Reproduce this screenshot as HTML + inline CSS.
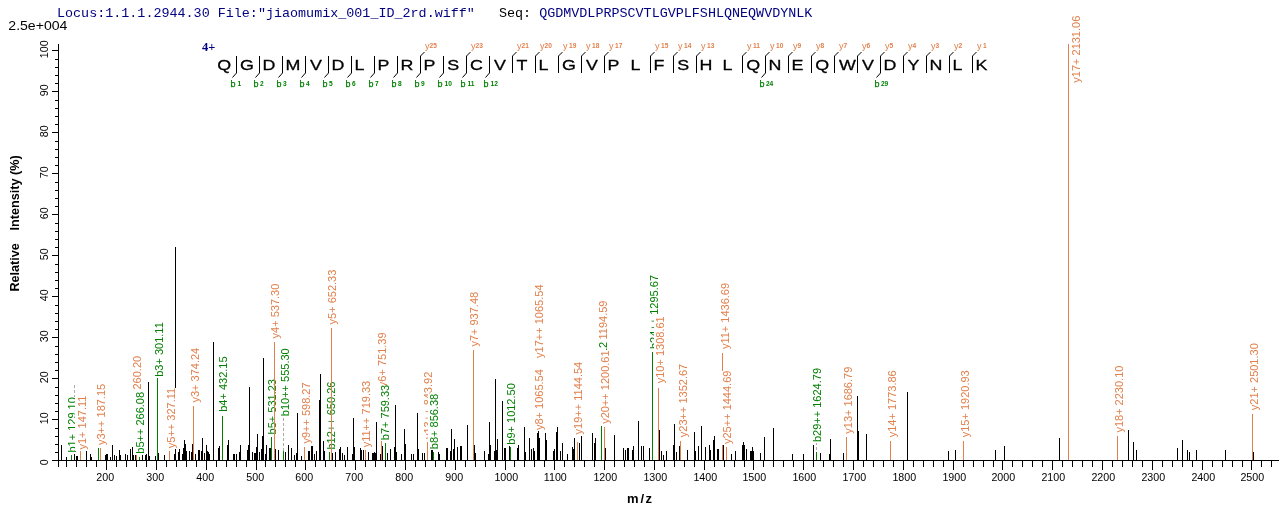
<!DOCTYPE html><html><head><meta charset="utf-8"><style>html,body{margin:0;padding:0;background:#fff;}svg{display:block;}text{font-family:"Liberation Sans",Arial,sans-serif;}</style></head><body>
<svg width="1279" height="512" viewBox="0 0 1279 512" shape-rendering="crispEdges">
<rect width="1279" height="512" fill="#fff"/>
<text x="57" y="16.5" style="font-family:'Liberation Mono',monospace;font-size:13.4px" fill="#000080" xml:space="preserve">Locus:1.1.1.2944.30 File:"jiaomumix_001_ID_2rd.wiff"   <tspan fill="#000">Seq:</tspan> QGDMVDLPRPSCVTLGVPLFSHLQNEQWVDYNLK</text>
<text transform="translate(8.3,30) scale(1.06,1)" font-size="13.3" fill="#000">2.5e+004</text>
<rect x="58" y="44" width="1" height="423" fill="#000"/>
<rect x="52" y="460" width="6" height="1" fill="#000"/>
<text transform="translate(47.9,462.4) rotate(-90)" font-size="10.67" text-anchor="middle">0</text>
<rect x="55" y="452" width="3" height="1" fill="#000"/>
<rect x="55" y="444" width="3" height="1" fill="#000"/>
<rect x="55" y="436" width="3" height="1" fill="#000"/>
<rect x="55" y="428" width="3" height="1" fill="#000"/>
<rect x="52" y="419" width="6" height="1" fill="#000"/>
<text transform="translate(47.9,418.3) rotate(-90)" font-size="10.67" text-anchor="middle">10</text>
<rect x="55" y="411" width="3" height="1" fill="#000"/>
<rect x="55" y="403" width="3" height="1" fill="#000"/>
<rect x="55" y="395" width="3" height="1" fill="#000"/>
<rect x="55" y="387" width="3" height="1" fill="#000"/>
<rect x="52" y="378" width="6" height="1" fill="#000"/>
<text transform="translate(47.9,377.3) rotate(-90)" font-size="10.67" text-anchor="middle">20</text>
<rect x="55" y="370" width="3" height="1" fill="#000"/>
<rect x="55" y="362" width="3" height="1" fill="#000"/>
<rect x="55" y="354" width="3" height="1" fill="#000"/>
<rect x="55" y="346" width="3" height="1" fill="#000"/>
<rect x="52" y="337" width="6" height="1" fill="#000"/>
<text transform="translate(47.9,336.3) rotate(-90)" font-size="10.67" text-anchor="middle">30</text>
<rect x="55" y="329" width="3" height="1" fill="#000"/>
<rect x="55" y="321" width="3" height="1" fill="#000"/>
<rect x="55" y="313" width="3" height="1" fill="#000"/>
<rect x="55" y="305" width="3" height="1" fill="#000"/>
<rect x="52" y="296" width="6" height="1" fill="#000"/>
<text transform="translate(47.9,295.3) rotate(-90)" font-size="10.67" text-anchor="middle">40</text>
<rect x="55" y="288" width="3" height="1" fill="#000"/>
<rect x="55" y="280" width="3" height="1" fill="#000"/>
<rect x="55" y="272" width="3" height="1" fill="#000"/>
<rect x="55" y="264" width="3" height="1" fill="#000"/>
<rect x="52" y="255" width="6" height="1" fill="#000"/>
<text transform="translate(47.9,254.3) rotate(-90)" font-size="10.67" text-anchor="middle">50</text>
<rect x="55" y="247" width="3" height="1" fill="#000"/>
<rect x="55" y="239" width="3" height="1" fill="#000"/>
<rect x="55" y="231" width="3" height="1" fill="#000"/>
<rect x="55" y="223" width="3" height="1" fill="#000"/>
<rect x="52" y="214" width="6" height="1" fill="#000"/>
<text transform="translate(47.9,213.3) rotate(-90)" font-size="10.67" text-anchor="middle">60</text>
<rect x="55" y="206" width="3" height="1" fill="#000"/>
<rect x="55" y="198" width="3" height="1" fill="#000"/>
<rect x="55" y="190" width="3" height="1" fill="#000"/>
<rect x="55" y="182" width="3" height="1" fill="#000"/>
<rect x="52" y="173" width="6" height="1" fill="#000"/>
<text transform="translate(47.9,172.3) rotate(-90)" font-size="10.67" text-anchor="middle">70</text>
<rect x="55" y="165" width="3" height="1" fill="#000"/>
<rect x="55" y="157" width="3" height="1" fill="#000"/>
<rect x="55" y="149" width="3" height="1" fill="#000"/>
<rect x="55" y="141" width="3" height="1" fill="#000"/>
<rect x="52" y="132" width="6" height="1" fill="#000"/>
<text transform="translate(47.9,131.3) rotate(-90)" font-size="10.67" text-anchor="middle">80</text>
<rect x="55" y="124" width="3" height="1" fill="#000"/>
<rect x="55" y="116" width="3" height="1" fill="#000"/>
<rect x="55" y="108" width="3" height="1" fill="#000"/>
<rect x="55" y="100" width="3" height="1" fill="#000"/>
<rect x="52" y="91" width="6" height="1" fill="#000"/>
<text transform="translate(47.9,90.3) rotate(-90)" font-size="10.67" text-anchor="middle">90</text>
<rect x="55" y="83" width="3" height="1" fill="#000"/>
<rect x="55" y="75" width="3" height="1" fill="#000"/>
<rect x="55" y="67" width="3" height="1" fill="#000"/>
<rect x="55" y="59" width="3" height="1" fill="#000"/>
<rect x="52" y="50" width="6" height="1" fill="#000"/>
<text transform="translate(47.9,49.3) rotate(-90)" font-size="10.67" text-anchor="middle">100</text>
<text transform="translate(19.2,291.6) rotate(-90) scale(0.93,1)" font-size="13.6" font-weight="bold">Relative</text>
<text transform="translate(19.2,230.4) rotate(-90) scale(0.93,1)" font-size="13.6" font-weight="bold">Intensity (%)</text>
<rect x="52" y="460" width="1227" height="1" fill="#000"/>
<rect x="66" y="461" width="1" height="6" fill="#000"/>
<rect x="76" y="461" width="1" height="6" fill="#000"/>
<rect x="86" y="461" width="1" height="6" fill="#000"/>
<rect x="96" y="461" width="1" height="6" fill="#000"/>
<rect x="106" y="461" width="1" height="9" fill="#000"/>
<text x="105.2" y="480.6" font-size="10.67" text-anchor="middle">200</text>
<rect x="116" y="461" width="1" height="6" fill="#000"/>
<rect x="126" y="461" width="1" height="6" fill="#000"/>
<rect x="136" y="461" width="1" height="6" fill="#000"/>
<rect x="146" y="461" width="1" height="6" fill="#000"/>
<rect x="156" y="461" width="1" height="9" fill="#000"/>
<text x="155.2" y="480.6" font-size="10.67" text-anchor="middle">300</text>
<rect x="166" y="461" width="1" height="6" fill="#000"/>
<rect x="176" y="461" width="1" height="6" fill="#000"/>
<rect x="186" y="461" width="1" height="6" fill="#000"/>
<rect x="196" y="461" width="1" height="6" fill="#000"/>
<rect x="206" y="461" width="1" height="9" fill="#000"/>
<text x="205.2" y="480.6" font-size="10.67" text-anchor="middle">400</text>
<rect x="216" y="461" width="1" height="6" fill="#000"/>
<rect x="226" y="461" width="1" height="6" fill="#000"/>
<rect x="236" y="461" width="1" height="6" fill="#000"/>
<rect x="246" y="461" width="1" height="6" fill="#000"/>
<rect x="256" y="461" width="1" height="9" fill="#000"/>
<text x="255.2" y="480.6" font-size="10.67" text-anchor="middle">500</text>
<rect x="265" y="461" width="1" height="6" fill="#000"/>
<rect x="275" y="461" width="1" height="6" fill="#000"/>
<rect x="285" y="461" width="1" height="6" fill="#000"/>
<rect x="295" y="461" width="1" height="6" fill="#000"/>
<rect x="305" y="461" width="1" height="9" fill="#000"/>
<text x="304.2" y="480.6" font-size="10.67" text-anchor="middle">600</text>
<rect x="315" y="461" width="1" height="6" fill="#000"/>
<rect x="325" y="461" width="1" height="6" fill="#000"/>
<rect x="335" y="461" width="1" height="6" fill="#000"/>
<rect x="345" y="461" width="1" height="6" fill="#000"/>
<rect x="355" y="461" width="1" height="9" fill="#000"/>
<text x="354.2" y="480.6" font-size="10.67" text-anchor="middle">700</text>
<rect x="365" y="461" width="1" height="6" fill="#000"/>
<rect x="375" y="461" width="1" height="6" fill="#000"/>
<rect x="385" y="461" width="1" height="6" fill="#000"/>
<rect x="395" y="461" width="1" height="6" fill="#000"/>
<rect x="405" y="461" width="1" height="9" fill="#000"/>
<text x="404.2" y="480.6" font-size="10.67" text-anchor="middle">800</text>
<rect x="415" y="461" width="1" height="6" fill="#000"/>
<rect x="425" y="461" width="1" height="6" fill="#000"/>
<rect x="435" y="461" width="1" height="6" fill="#000"/>
<rect x="445" y="461" width="1" height="6" fill="#000"/>
<rect x="455" y="461" width="1" height="9" fill="#000"/>
<text x="454.2" y="480.6" font-size="10.67" text-anchor="middle">900</text>
<rect x="465" y="461" width="1" height="6" fill="#000"/>
<rect x="475" y="461" width="1" height="6" fill="#000"/>
<rect x="485" y="461" width="1" height="6" fill="#000"/>
<rect x="495" y="461" width="1" height="6" fill="#000"/>
<rect x="505" y="461" width="1" height="9" fill="#000"/>
<text x="506.3" y="480.6" font-size="10.67" text-anchor="middle">1000</text>
<rect x="514" y="461" width="1" height="6" fill="#000"/>
<rect x="524" y="461" width="1" height="6" fill="#000"/>
<rect x="534" y="461" width="1" height="6" fill="#000"/>
<rect x="544" y="461" width="1" height="6" fill="#000"/>
<rect x="554" y="461" width="1" height="9" fill="#000"/>
<text x="555.3" y="480.6" font-size="10.67" text-anchor="middle">1100</text>
<rect x="564" y="461" width="1" height="6" fill="#000"/>
<rect x="574" y="461" width="1" height="6" fill="#000"/>
<rect x="584" y="461" width="1" height="6" fill="#000"/>
<rect x="594" y="461" width="1" height="6" fill="#000"/>
<rect x="604" y="461" width="1" height="9" fill="#000"/>
<text x="605.3" y="480.6" font-size="10.67" text-anchor="middle">1200</text>
<rect x="614" y="461" width="1" height="6" fill="#000"/>
<rect x="624" y="461" width="1" height="6" fill="#000"/>
<rect x="634" y="461" width="1" height="6" fill="#000"/>
<rect x="644" y="461" width="1" height="6" fill="#000"/>
<rect x="654" y="461" width="1" height="9" fill="#000"/>
<text x="655.3" y="480.6" font-size="10.67" text-anchor="middle">1300</text>
<rect x="664" y="461" width="1" height="6" fill="#000"/>
<rect x="674" y="461" width="1" height="6" fill="#000"/>
<rect x="684" y="461" width="1" height="6" fill="#000"/>
<rect x="694" y="461" width="1" height="6" fill="#000"/>
<rect x="704" y="461" width="1" height="9" fill="#000"/>
<text x="705.3" y="480.6" font-size="10.67" text-anchor="middle">1400</text>
<rect x="714" y="461" width="1" height="6" fill="#000"/>
<rect x="724" y="461" width="1" height="6" fill="#000"/>
<rect x="734" y="461" width="1" height="6" fill="#000"/>
<rect x="744" y="461" width="1" height="6" fill="#000"/>
<rect x="753" y="461" width="1" height="9" fill="#000"/>
<text x="754.3" y="480.6" font-size="10.67" text-anchor="middle">1500</text>
<rect x="763" y="461" width="1" height="6" fill="#000"/>
<rect x="773" y="461" width="1" height="6" fill="#000"/>
<rect x="783" y="461" width="1" height="6" fill="#000"/>
<rect x="793" y="461" width="1" height="6" fill="#000"/>
<rect x="803" y="461" width="1" height="9" fill="#000"/>
<text x="804.3" y="480.6" font-size="10.67" text-anchor="middle">1600</text>
<rect x="813" y="461" width="1" height="6" fill="#000"/>
<rect x="823" y="461" width="1" height="6" fill="#000"/>
<rect x="833" y="461" width="1" height="6" fill="#000"/>
<rect x="843" y="461" width="1" height="6" fill="#000"/>
<rect x="853" y="461" width="1" height="9" fill="#000"/>
<text x="854.3" y="480.6" font-size="10.67" text-anchor="middle">1700</text>
<rect x="863" y="461" width="1" height="6" fill="#000"/>
<rect x="873" y="461" width="1" height="6" fill="#000"/>
<rect x="883" y="461" width="1" height="6" fill="#000"/>
<rect x="893" y="461" width="1" height="6" fill="#000"/>
<rect x="903" y="461" width="1" height="9" fill="#000"/>
<text x="904.3" y="480.6" font-size="10.67" text-anchor="middle">1800</text>
<rect x="913" y="461" width="1" height="6" fill="#000"/>
<rect x="923" y="461" width="1" height="6" fill="#000"/>
<rect x="933" y="461" width="1" height="6" fill="#000"/>
<rect x="943" y="461" width="1" height="6" fill="#000"/>
<rect x="953" y="461" width="1" height="9" fill="#000"/>
<text x="954.3" y="480.6" font-size="10.67" text-anchor="middle">1900</text>
<rect x="963" y="461" width="1" height="6" fill="#000"/>
<rect x="973" y="461" width="1" height="6" fill="#000"/>
<rect x="983" y="461" width="1" height="6" fill="#000"/>
<rect x="993" y="461" width="1" height="6" fill="#000"/>
<rect x="1002" y="461" width="1" height="9" fill="#000"/>
<text x="1003.3" y="480.6" font-size="10.67" text-anchor="middle">2000</text>
<rect x="1012" y="461" width="1" height="6" fill="#000"/>
<rect x="1022" y="461" width="1" height="6" fill="#000"/>
<rect x="1032" y="461" width="1" height="6" fill="#000"/>
<rect x="1042" y="461" width="1" height="6" fill="#000"/>
<rect x="1052" y="461" width="1" height="9" fill="#000"/>
<text x="1053.3" y="480.6" font-size="10.67" text-anchor="middle">2100</text>
<rect x="1062" y="461" width="1" height="6" fill="#000"/>
<rect x="1072" y="461" width="1" height="6" fill="#000"/>
<rect x="1082" y="461" width="1" height="6" fill="#000"/>
<rect x="1092" y="461" width="1" height="6" fill="#000"/>
<rect x="1102" y="461" width="1" height="9" fill="#000"/>
<text x="1103.3" y="480.6" font-size="10.67" text-anchor="middle">2200</text>
<rect x="1112" y="461" width="1" height="6" fill="#000"/>
<rect x="1122" y="461" width="1" height="6" fill="#000"/>
<rect x="1132" y="461" width="1" height="6" fill="#000"/>
<rect x="1142" y="461" width="1" height="6" fill="#000"/>
<rect x="1152" y="461" width="1" height="9" fill="#000"/>
<text x="1153.3" y="480.6" font-size="10.67" text-anchor="middle">2300</text>
<rect x="1162" y="461" width="1" height="6" fill="#000"/>
<rect x="1172" y="461" width="1" height="6" fill="#000"/>
<rect x="1182" y="461" width="1" height="6" fill="#000"/>
<rect x="1192" y="461" width="1" height="6" fill="#000"/>
<rect x="1202" y="461" width="1" height="9" fill="#000"/>
<text x="1203.3" y="480.6" font-size="10.67" text-anchor="middle">2400</text>
<rect x="1212" y="461" width="1" height="6" fill="#000"/>
<rect x="1222" y="461" width="1" height="6" fill="#000"/>
<rect x="1232" y="461" width="1" height="6" fill="#000"/>
<rect x="1242" y="461" width="1" height="6" fill="#000"/>
<rect x="1251" y="461" width="1" height="9" fill="#000"/>
<text x="1252.3" y="480.6" font-size="10.67" text-anchor="middle">2500</text>
<rect x="1261" y="461" width="1" height="6" fill="#000"/>
<rect x="1271" y="461" width="1" height="6" fill="#000"/>
<text x="627.1" y="502.6" font-size="13" font-weight="bold">m<tspan x="640.6">/</tspan><tspan x="645.4">z</tspan></text>
<rect x="61" y="445" width="1" height="15" fill="#000"/>
<rect x="66" y="457" width="1" height="3" fill="#000"/>
<rect x="74" y="454" width="1" height="6" fill="#000"/>
<rect x="76" y="456" width="1" height="4" fill="#000"/>
<rect x="77" y="456" width="1" height="4" fill="#000"/>
<rect x="86" y="449" width="1" height="11" fill="#000"/>
<rect x="90" y="454" width="1" height="6" fill="#000"/>
<rect x="91" y="457" width="1" height="3" fill="#000"/>
<rect x="105" y="455" width="1" height="5" fill="#000"/>
<rect x="106" y="454" width="1" height="6" fill="#000"/>
<rect x="107" y="454" width="1" height="6" fill="#000"/>
<rect x="107" y="455" width="1" height="5" fill="#000"/>
<rect x="110" y="457" width="1" height="3" fill="#000"/>
<rect x="112" y="445" width="1" height="15" fill="#000"/>
<rect x="114" y="455" width="1" height="5" fill="#000"/>
<rect x="116" y="456" width="1" height="4" fill="#000"/>
<rect x="119" y="450" width="1" height="10" fill="#000"/>
<rect x="120" y="455" width="1" height="5" fill="#000"/>
<rect x="125" y="454" width="1" height="6" fill="#000"/>
<rect x="127" y="455" width="1" height="5" fill="#000"/>
<rect x="130" y="449" width="1" height="11" fill="#000"/>
<rect x="132" y="447" width="1" height="13" fill="#000"/>
<rect x="133" y="448" width="1" height="12" fill="#000"/>
<rect x="135" y="455" width="1" height="5" fill="#000"/>
<rect x="136" y="455" width="1" height="5" fill="#000"/>
<rect x="142" y="454" width="1" height="6" fill="#000"/>
<rect x="145" y="454" width="1" height="6" fill="#000"/>
<rect x="146" y="454" width="1" height="6" fill="#000"/>
<rect x="148" y="382" width="1" height="78" fill="#000"/>
<rect x="149" y="456" width="1" height="4" fill="#000"/>
<rect x="155" y="456" width="1" height="4" fill="#000"/>
<rect x="158" y="453" width="1" height="7" fill="#000"/>
<rect x="164" y="455" width="1" height="5" fill="#000"/>
<rect x="174" y="454" width="1" height="6" fill="#000"/>
<rect x="175" y="247" width="1" height="213" fill="#000"/>
<rect x="178" y="452" width="1" height="8" fill="#000"/>
<rect x="179" y="449" width="1" height="11" fill="#000"/>
<rect x="182" y="454" width="1" height="6" fill="#000"/>
<rect x="183" y="448" width="1" height="12" fill="#000"/>
<rect x="184" y="440" width="1" height="20" fill="#000"/>
<rect x="185" y="444" width="1" height="16" fill="#000"/>
<rect x="186" y="451" width="1" height="9" fill="#000"/>
<rect x="189" y="451" width="1" height="9" fill="#000"/>
<rect x="191" y="452" width="1" height="8" fill="#000"/>
<rect x="192" y="444" width="1" height="16" fill="#000"/>
<rect x="195" y="454" width="1" height="6" fill="#000"/>
<rect x="198" y="450" width="1" height="10" fill="#000"/>
<rect x="199" y="450" width="1" height="10" fill="#000"/>
<rect x="201" y="451" width="1" height="9" fill="#000"/>
<rect x="202" y="438" width="1" height="22" fill="#000"/>
<rect x="204" y="453" width="1" height="7" fill="#000"/>
<rect x="206" y="445" width="1" height="15" fill="#000"/>
<rect x="207" y="451" width="1" height="9" fill="#000"/>
<rect x="208" y="452" width="1" height="8" fill="#000"/>
<rect x="209" y="454" width="1" height="6" fill="#000"/>
<rect x="213" y="342" width="1" height="118" fill="#000"/>
<rect x="218" y="448" width="1" height="12" fill="#000"/>
<rect x="219" y="446" width="1" height="14" fill="#000"/>
<rect x="227" y="445" width="1" height="15" fill="#000"/>
<rect x="228" y="440" width="1" height="20" fill="#000"/>
<rect x="233" y="454" width="1" height="6" fill="#000"/>
<rect x="234" y="454" width="1" height="6" fill="#000"/>
<rect x="236" y="454" width="1" height="6" fill="#000"/>
<rect x="239" y="452" width="1" height="8" fill="#000"/>
<rect x="240" y="445" width="1" height="15" fill="#000"/>
<rect x="247" y="450" width="1" height="10" fill="#000"/>
<rect x="248" y="445" width="1" height="15" fill="#000"/>
<rect x="249" y="387" width="1" height="73" fill="#000"/>
<rect x="252" y="452" width="1" height="8" fill="#000"/>
<rect x="254" y="453" width="1" height="7" fill="#000"/>
<rect x="255" y="453" width="1" height="7" fill="#000"/>
<rect x="256" y="447" width="1" height="13" fill="#000"/>
<rect x="257" y="434" width="1" height="26" fill="#000"/>
<rect x="259" y="452" width="1" height="8" fill="#000"/>
<rect x="261" y="449" width="1" height="11" fill="#000"/>
<rect x="262" y="436" width="1" height="24" fill="#000"/>
<rect x="263" y="358" width="1" height="102" fill="#000"/>
<rect x="265" y="454" width="1" height="6" fill="#000"/>
<rect x="266" y="445" width="1" height="15" fill="#000"/>
<rect x="269" y="448" width="1" height="12" fill="#000"/>
<rect x="270" y="448" width="1" height="12" fill="#000"/>
<rect x="275" y="449" width="1" height="11" fill="#000"/>
<rect x="278" y="450" width="1" height="10" fill="#000"/>
<rect x="285" y="452" width="1" height="8" fill="#000"/>
<rect x="288" y="445" width="1" height="15" fill="#000"/>
<rect x="291" y="448" width="1" height="12" fill="#000"/>
<rect x="294" y="455" width="1" height="5" fill="#000"/>
<rect x="296" y="453" width="1" height="7" fill="#000"/>
<rect x="297" y="413" width="1" height="47" fill="#000"/>
<rect x="301" y="456" width="1" height="4" fill="#000"/>
<rect x="304" y="454" width="1" height="6" fill="#000"/>
<rect x="308" y="451" width="1" height="9" fill="#000"/>
<rect x="309" y="451" width="1" height="9" fill="#000"/>
<rect x="311" y="446" width="1" height="14" fill="#000"/>
<rect x="312" y="446" width="1" height="14" fill="#000"/>
<rect x="314" y="454" width="1" height="6" fill="#000"/>
<rect x="316" y="451" width="1" height="9" fill="#000"/>
<rect x="319" y="400" width="1" height="60" fill="#000"/>
<rect x="320" y="374" width="1" height="86" fill="#000"/>
<rect x="323" y="441" width="1" height="19" fill="#000"/>
<rect x="324" y="441" width="1" height="19" fill="#000"/>
<rect x="332" y="453" width="1" height="7" fill="#000"/>
<rect x="335" y="452" width="1" height="8" fill="#000"/>
<rect x="339" y="449" width="1" height="11" fill="#000"/>
<rect x="340" y="447" width="1" height="13" fill="#000"/>
<rect x="342" y="453" width="1" height="7" fill="#000"/>
<rect x="344" y="455" width="1" height="5" fill="#000"/>
<rect x="347" y="447" width="1" height="13" fill="#000"/>
<rect x="352" y="454" width="1" height="6" fill="#000"/>
<rect x="353" y="454" width="1" height="6" fill="#000"/>
<rect x="353" y="418" width="1" height="42" fill="#000"/>
<rect x="354" y="447" width="1" height="13" fill="#000"/>
<rect x="360" y="448" width="1" height="12" fill="#000"/>
<rect x="361" y="450" width="1" height="10" fill="#000"/>
<rect x="363" y="450" width="1" height="10" fill="#000"/>
<rect x="368" y="452" width="1" height="8" fill="#000"/>
<rect x="372" y="453" width="1" height="7" fill="#000"/>
<rect x="373" y="453" width="1" height="7" fill="#000"/>
<rect x="374" y="452" width="1" height="8" fill="#000"/>
<rect x="375" y="453" width="1" height="7" fill="#000"/>
<rect x="376" y="422" width="1" height="38" fill="#000"/>
<rect x="376" y="452" width="1" height="8" fill="#000"/>
<rect x="380" y="454" width="1" height="6" fill="#000"/>
<rect x="382" y="446" width="1" height="14" fill="#000"/>
<rect x="387" y="453" width="1" height="7" fill="#000"/>
<rect x="390" y="449" width="1" height="11" fill="#000"/>
<rect x="394" y="447" width="1" height="13" fill="#000"/>
<rect x="395" y="405" width="1" height="55" fill="#000"/>
<rect x="396" y="452" width="1" height="8" fill="#000"/>
<rect x="401" y="454" width="1" height="6" fill="#000"/>
<rect x="404" y="429" width="1" height="31" fill="#000"/>
<rect x="405" y="444" width="1" height="16" fill="#000"/>
<rect x="411" y="454" width="1" height="6" fill="#000"/>
<rect x="413" y="454" width="1" height="6" fill="#000"/>
<rect x="417" y="413" width="1" height="47" fill="#000"/>
<rect x="418" y="449" width="1" height="11" fill="#000"/>
<rect x="422" y="453" width="1" height="7" fill="#000"/>
<rect x="424" y="453" width="1" height="7" fill="#000"/>
<rect x="431" y="450" width="1" height="10" fill="#000"/>
<rect x="432" y="450" width="1" height="10" fill="#000"/>
<rect x="438" y="452" width="1" height="8" fill="#000"/>
<rect x="438" y="452" width="1" height="8" fill="#000"/>
<rect x="439" y="454" width="1" height="6" fill="#000"/>
<rect x="446" y="448" width="1" height="12" fill="#000"/>
<rect x="447" y="448" width="1" height="12" fill="#000"/>
<rect x="450" y="451" width="1" height="9" fill="#000"/>
<rect x="451" y="429" width="1" height="31" fill="#000"/>
<rect x="453" y="449" width="1" height="11" fill="#000"/>
<rect x="454" y="439" width="1" height="21" fill="#000"/>
<rect x="457" y="447" width="1" height="13" fill="#000"/>
<rect x="460" y="446" width="1" height="14" fill="#000"/>
<rect x="461" y="446" width="1" height="14" fill="#000"/>
<rect x="467" y="425" width="1" height="35" fill="#000"/>
<rect x="474" y="445" width="1" height="15" fill="#000"/>
<rect x="475" y="453" width="1" height="7" fill="#000"/>
<rect x="484" y="451" width="1" height="9" fill="#000"/>
<rect x="488" y="454" width="1" height="6" fill="#000"/>
<rect x="489" y="422" width="1" height="38" fill="#000"/>
<rect x="490" y="445" width="1" height="15" fill="#000"/>
<rect x="494" y="451" width="1" height="9" fill="#000"/>
<rect x="495" y="379" width="1" height="81" fill="#000"/>
<rect x="496" y="450" width="1" height="10" fill="#000"/>
<rect x="497" y="439" width="1" height="21" fill="#000"/>
<rect x="502" y="401" width="1" height="59" fill="#000"/>
<rect x="504" y="448" width="1" height="12" fill="#000"/>
<rect x="505" y="448" width="1" height="12" fill="#000"/>
<rect x="509" y="445" width="1" height="15" fill="#000"/>
<rect x="517" y="448" width="1" height="12" fill="#000"/>
<rect x="518" y="445" width="1" height="15" fill="#000"/>
<rect x="524" y="427" width="1" height="33" fill="#000"/>
<rect x="525" y="452" width="1" height="8" fill="#000"/>
<rect x="529" y="438" width="1" height="22" fill="#000"/>
<rect x="531" y="449" width="1" height="11" fill="#000"/>
<rect x="533" y="448" width="1" height="12" fill="#000"/>
<rect x="531" y="449" width="1" height="11" fill="#000"/>
<rect x="533" y="448" width="1" height="12" fill="#000"/>
<rect x="534" y="451" width="1" height="9" fill="#000"/>
<rect x="537" y="433" width="1" height="27" fill="#000"/>
<rect x="538" y="431" width="1" height="29" fill="#000"/>
<rect x="539" y="438" width="1" height="22" fill="#000"/>
<rect x="545" y="433" width="1" height="27" fill="#000"/>
<rect x="546" y="440" width="1" height="20" fill="#000"/>
<rect x="553" y="451" width="1" height="9" fill="#000"/>
<rect x="554" y="449" width="1" height="11" fill="#000"/>
<rect x="556" y="432" width="1" height="28" fill="#000"/>
<rect x="557" y="427" width="1" height="33" fill="#000"/>
<rect x="560" y="451" width="1" height="9" fill="#000"/>
<rect x="562" y="443" width="1" height="17" fill="#000"/>
<rect x="567" y="454" width="1" height="6" fill="#000"/>
<rect x="572" y="447" width="1" height="13" fill="#000"/>
<rect x="573" y="449" width="1" height="11" fill="#000"/>
<rect x="574" y="438" width="1" height="22" fill="#000"/>
<rect x="579" y="443" width="1" height="17" fill="#000"/>
<rect x="581" y="436" width="1" height="24" fill="#000"/>
<rect x="592" y="433" width="1" height="27" fill="#000"/>
<rect x="594" y="443" width="1" height="17" fill="#000"/>
<rect x="595" y="438" width="1" height="22" fill="#000"/>
<rect x="605" y="448" width="1" height="12" fill="#000"/>
<rect x="614" y="435" width="1" height="25" fill="#000"/>
<rect x="623" y="448" width="1" height="12" fill="#000"/>
<rect x="625" y="450" width="1" height="10" fill="#000"/>
<rect x="627" y="448" width="1" height="12" fill="#000"/>
<rect x="628" y="448" width="1" height="12" fill="#000"/>
<rect x="625" y="450" width="1" height="10" fill="#000"/>
<rect x="627" y="448" width="1" height="12" fill="#000"/>
<rect x="628" y="448" width="1" height="12" fill="#000"/>
<rect x="632" y="450" width="1" height="10" fill="#000"/>
<rect x="633" y="446" width="1" height="14" fill="#000"/>
<rect x="638" y="421" width="1" height="39" fill="#000"/>
<rect x="641" y="446" width="1" height="14" fill="#000"/>
<rect x="643" y="446" width="1" height="14" fill="#000"/>
<rect x="649" y="448" width="1" height="12" fill="#000"/>
<rect x="659" y="430" width="1" height="30" fill="#000"/>
<rect x="661" y="451" width="1" height="9" fill="#000"/>
<rect x="663" y="455" width="1" height="5" fill="#000"/>
<rect x="666" y="451" width="1" height="9" fill="#000"/>
<rect x="673" y="445" width="1" height="15" fill="#000"/>
<rect x="674" y="424" width="1" height="36" fill="#000"/>
<rect x="676" y="452" width="1" height="8" fill="#000"/>
<rect x="679" y="446" width="1" height="14" fill="#000"/>
<rect x="687" y="450" width="1" height="10" fill="#000"/>
<rect x="694" y="432" width="1" height="28" fill="#000"/>
<rect x="695" y="451" width="1" height="9" fill="#000"/>
<rect x="698" y="446" width="1" height="14" fill="#000"/>
<rect x="701" y="426" width="1" height="34" fill="#000"/>
<rect x="705" y="447" width="1" height="13" fill="#000"/>
<rect x="709" y="445" width="1" height="15" fill="#000"/>
<rect x="710" y="450" width="1" height="10" fill="#000"/>
<rect x="713" y="440" width="1" height="20" fill="#000"/>
<rect x="714" y="436" width="1" height="24" fill="#000"/>
<rect x="717" y="449" width="1" height="11" fill="#000"/>
<rect x="718" y="449" width="1" height="11" fill="#000"/>
<rect x="723" y="445" width="1" height="15" fill="#000"/>
<rect x="731" y="454" width="1" height="6" fill="#000"/>
<rect x="735" y="451" width="1" height="9" fill="#000"/>
<rect x="742" y="445" width="1" height="15" fill="#000"/>
<rect x="743" y="442" width="1" height="18" fill="#000"/>
<rect x="744" y="445" width="1" height="15" fill="#000"/>
<rect x="746" y="449" width="1" height="11" fill="#000"/>
<rect x="750" y="451" width="1" height="9" fill="#000"/>
<rect x="751" y="451" width="1" height="9" fill="#000"/>
<rect x="752" y="447" width="1" height="13" fill="#000"/>
<rect x="753" y="451" width="1" height="9" fill="#000"/>
<rect x="760" y="453" width="1" height="7" fill="#000"/>
<rect x="764" y="437" width="1" height="23" fill="#000"/>
<rect x="773" y="428" width="1" height="32" fill="#000"/>
<rect x="792" y="454" width="1" height="6" fill="#000"/>
<rect x="803" y="454" width="1" height="6" fill="#000"/>
<rect x="813" y="445" width="1" height="15" fill="#000"/>
<rect x="820" y="453" width="1" height="7" fill="#000"/>
<rect x="829" y="454" width="1" height="6" fill="#000"/>
<rect x="830" y="439" width="1" height="21" fill="#000"/>
<rect x="843" y="453" width="1" height="7" fill="#000"/>
<rect x="846" y="451" width="1" height="9" fill="#000"/>
<rect x="857" y="396" width="1" height="64" fill="#000"/>
<rect x="858" y="431" width="1" height="29" fill="#000"/>
<rect x="866" y="434" width="1" height="26" fill="#000"/>
<rect x="907" y="392" width="1" height="68" fill="#000"/>
<rect x="948" y="451" width="1" height="9" fill="#000"/>
<rect x="955" y="450" width="1" height="10" fill="#000"/>
<rect x="995" y="450" width="1" height="10" fill="#000"/>
<rect x="1004" y="446" width="1" height="14" fill="#000"/>
<rect x="1059" y="438" width="1" height="22" fill="#000"/>
<rect x="1128" y="430" width="1" height="30" fill="#000"/>
<rect x="1133" y="442" width="1" height="18" fill="#000"/>
<rect x="1136" y="450" width="1" height="10" fill="#000"/>
<rect x="1177" y="448" width="1" height="12" fill="#000"/>
<rect x="1182" y="440" width="1" height="20" fill="#000"/>
<rect x="1187" y="450" width="1" height="10" fill="#000"/>
<rect x="1189" y="452" width="1" height="8" fill="#000"/>
<rect x="1196" y="450" width="1" height="10" fill="#000"/>
<rect x="1225" y="450" width="1" height="10" fill="#000"/>
<rect x="1253" y="452" width="1" height="8" fill="#000"/>
<line x1="74.5" y1="385" x2="74.5" y2="396.6" stroke="#aaa" stroke-width="1" stroke-dasharray="3,2"/>
<line x1="283.5" y1="418" x2="283.5" y2="450.8" stroke="#aaa" stroke-width="1" stroke-dasharray="3,2"/>
<line x1="816.5" y1="442" x2="816.5" y2="452.5" stroke="#aaa" stroke-width="1" stroke-dasharray="3,2"/>
<rect x="71" y="455" width="1" height="5" fill="#008000"/>
<g transform="translate(76.2,452.5) rotate(-90)"><rect x="-1" y="-10.7" width="56.4" height="13.2" fill="#fff"/><text x="0" y="0" font-size="11" fill="#008000">b1+ 129.10</text></g>
<rect x="80" y="451" width="1" height="9" fill="#E2804C"/>
<g transform="translate(85.6,449.5) rotate(-90)"><rect x="-1" y="-10.7" width="54.9" height="13.2" fill="#fff"/><text x="0" y="0" font-size="11" fill="#E2804C">y1+ 147.11</text></g>
<rect x="98" y="448" width="1" height="12" fill="#008000"/>
<rect x="100" y="448" width="1" height="12" fill="#E2804C"/>
<g transform="translate(105.3,445) rotate(-90)"><rect x="-1" y="-10.7" width="62.2" height="13.2" fill="#fff"/><text x="0" y="0" font-size="11" fill="#E2804C">y3++ 187.15</text></g>
<rect x="136" y="454" width="1" height="6" fill="#E2804C"/>
<g transform="translate(140.7,410.6) rotate(-90)"><rect x="-1" y="-10.7" width="55.7" height="13.2" fill="#fff"/><text x="0" y="0" font-size="11" fill="#E2804C">y2+ 260.20</text></g>
<rect x="139" y="457" width="1" height="3" fill="#008000"/>
<g transform="translate(143.8,453.7) rotate(-90)"><rect x="-1" y="-10.7" width="62.8" height="13.2" fill="#fff"/><text x="0" y="0" font-size="11" fill="#008000">b5++ 266.08</text></g>
<rect x="157" y="377" width="1" height="83" fill="#008000"/>
<g transform="translate(162.6,376.8) rotate(-90)"><rect x="-1" y="-10.7" width="55.5" height="13.2" fill="#fff"/><text x="0" y="0" font-size="11" fill="#008000">b3+ 301.11</text></g>
<rect x="169" y="451" width="1" height="9" fill="#E2804C"/>
<g transform="translate(175.2,448.2) rotate(-90)"><rect x="-1" y="-10.7" width="61.3" height="13.2" fill="#fff"/><text x="0" y="0" font-size="11" fill="#E2804C">y5++ 327.11</text></g>
<rect x="193" y="406" width="1" height="54" fill="#E2804C"/>
<g transform="translate(198.8,402.5) rotate(-90)"><rect x="-1" y="-10.7" width="55.7" height="13.2" fill="#fff"/><text x="0" y="0" font-size="11" fill="#E2804C">y3+ 374.24</text></g>
<rect x="222" y="416" width="1" height="44" fill="#008000"/>
<g transform="translate(227.4,411.8) rotate(-90)"><rect x="-1" y="-10.7" width="56.4" height="13.2" fill="#fff"/><text x="0" y="0" font-size="11" fill="#008000">b4+ 432.15</text></g>
<rect x="271" y="437" width="1" height="23" fill="#008000"/>
<g transform="translate(275.9,434.4) rotate(-90)"><rect x="-1" y="-10.7" width="56.4" height="13.2" fill="#fff"/><text x="0" y="0" font-size="11" fill="#008000">b5+ 531.23</text></g>
<rect x="274" y="342" width="1" height="118" fill="#E2804C"/>
<g transform="translate(279.3,338.4) rotate(-90)"><rect x="-1" y="-10.7" width="55.7" height="13.2" fill="#fff"/><text x="0" y="0" font-size="11" fill="#E2804C">y4+ 537.30</text></g>
<rect x="283" y="451" width="1" height="9" fill="#008000"/>
<g transform="translate(289.0,416.2) rotate(-90)"><rect x="-1" y="-10.7" width="68.9" height="13.2" fill="#fff"/><text x="0" y="0" font-size="11" fill="#008000">b10++ 555.30</text></g>
<rect x="304" y="447" width="1" height="13" fill="#E2804C"/>
<g transform="translate(310.0,443.6) rotate(-90)"><rect x="-1" y="-10.7" width="62.2" height="13.2" fill="#fff"/><text x="0" y="0" font-size="11" fill="#E2804C">y9++ 598.27</text></g>
<rect x="329" y="452" width="1" height="8" fill="#008000"/>
<g transform="translate(335.0,449.5) rotate(-90)"><rect x="-1" y="-10.7" width="68.9" height="13.2" fill="#fff"/><text x="0" y="0" font-size="11" fill="#008000">b12++ 650.26</text></g>
<rect x="331" y="328" width="1" height="132" fill="#E2804C"/>
<g transform="translate(336.0,324.4) rotate(-90)"><rect x="-1" y="-10.7" width="55.7" height="13.2" fill="#fff"/><text x="0" y="0" font-size="11" fill="#E2804C">y5+ 652.33</text></g>
<rect x="365" y="450" width="1" height="10" fill="#E2804C"/>
<g transform="translate(369.6,447.3) rotate(-90)"><rect x="-1" y="-10.7" width="67.5" height="13.2" fill="#fff"/><text x="0" y="0" font-size="11" fill="#E2804C">y11++ 719.33</text></g>
<rect x="381" y="440" width="1" height="20" fill="#E2804C"/>
<g transform="translate(386.4,387.2) rotate(-90)"><rect x="-1" y="-10.7" width="55.7" height="13.2" fill="#fff"/><text x="0" y="0" font-size="11" fill="#E2804C">y6+ 751.39</text></g>
<rect x="385" y="443" width="1" height="17" fill="#008000"/>
<g transform="translate(388.9,440.2) rotate(-90)"><rect x="-1" y="-10.7" width="56.4" height="13.2" fill="#fff"/><text x="0" y="0" font-size="11" fill="#008000">b7+ 759.33</text></g>
<rect x="427" y="442" width="1" height="18" fill="#E2804C"/>
<g transform="translate(432.4,439.0) rotate(-90)"><rect x="-1" y="-10.7" width="68.3" height="13.2" fill="#fff"/><text x="0" y="0" font-size="11" fill="#E2804C">y13++ 843.92</text></g>
<rect x="433" y="452" width="1" height="8" fill="#008000"/>
<g transform="translate(438.3,449.2) rotate(-90)"><rect x="-1" y="-10.7" width="56.4" height="13.2" fill="#fff"/><text x="0" y="0" font-size="11" fill="#008000">b8+ 856.38</text></g>
<rect x="473" y="350" width="1" height="110" fill="#E2804C"/>
<g transform="translate(477.9,346.6) rotate(-90)"><rect x="-1" y="-10.7" width="55.7" height="13.2" fill="#fff"/><text x="0" y="0" font-size="11" fill="#E2804C">y7+ 937.48</text></g>
<rect x="510" y="447" width="1" height="13" fill="#008000"/>
<g transform="translate(515.2,444.7) rotate(-90)"><rect x="-1" y="-10.7" width="62.5" height="13.2" fill="#fff"/><text x="0" y="0" font-size="11" fill="#008000">b9+ 1012.50</text></g>
<rect x="537" y="433" width="1" height="27" fill="#000"/>
<g transform="translate(542.6,430.0) rotate(-90)"><rect x="-1" y="-10.7" width="61.9" height="13.2" fill="#fff"/><text x="0" y="0" font-size="11" fill="#E2804C">y8+ 1065.54</text></g>
<rect x="537" y="433" width="1" height="27" fill="#000"/>
<g transform="translate(542.5,357.9) rotate(-90)"><rect x="-1" y="-10.7" width="74.4" height="13.2" fill="#fff"/><text x="0" y="0" font-size="11" fill="#E2804C">y17++ 1065.54</text></g>
<rect x="577" y="442" width="1" height="18" fill="#E2804C"/>
<g transform="translate(581.7,434.4) rotate(-90)"><rect x="-1" y="-10.7" width="73.6" height="13.2" fill="#fff"/><text x="0" y="0" font-size="11" fill="#E2804C">y19++ 1144.54</text></g>
<rect x="601" y="426" width="1" height="34" fill="#008000"/>
<text transform="translate(607.0,339.5) rotate(-90)" font-size="11" fill="#E2804C">1194.59</text>
<rect x="601" y="426" width="1" height="34" fill="#008000"/>
<text transform="translate(606.9,354.0) rotate(-90)" font-size="11" fill="#008000">12</text>
<rect x="604" y="427" width="1" height="33" fill="#E2804C"/>
<g transform="translate(608.9,423.8) rotate(-90)"><rect x="-1" y="-10.7" width="74.4" height="13.2" fill="#fff"/><text x="0" y="0" font-size="11" fill="#E2804C">y20++ 1200.61</text></g>
<rect x="652" y="352" width="1" height="108" fill="#008000"/>
<g transform="translate(658.4,349.0) rotate(-90)"><rect x="-1" y="-10.7" width="75.0" height="13.2" fill="#fff"/><text x="0" y="0" font-size="11" fill="#008000">b24++ 1295.67</text></g>
<rect x="658" y="388" width="1" height="72" fill="#E2804C"/>
<g transform="translate(664.3,383.3) rotate(-90)"><rect x="-1" y="-10.7" width="68.0" height="13.2" fill="#fff"/><text x="0" y="0" font-size="11" fill="#E2804C">y10+ 1308.61</text></g>
<rect x="680" y="441" width="1" height="19" fill="#E2804C"/>
<g transform="translate(686.9,437.2) rotate(-90)"><rect x="-1" y="-10.7" width="74.4" height="13.2" fill="#fff"/><text x="0" y="0" font-size="11" fill="#E2804C">y23++ 1352.67</text></g>
<rect x="722" y="353" width="1" height="107" fill="#E2804C"/>
<g transform="translate(729.0,349.1) rotate(-90)"><rect x="-1" y="-10.7" width="67.2" height="13.2" fill="#fff"/><text x="0" y="0" font-size="11" fill="#E2804C">y11+ 1436.69</text></g>
<rect x="726" y="447" width="1" height="13" fill="#E2804C"/>
<g transform="translate(730.9,444.0) rotate(-90)"><rect x="-1" y="-10.7" width="74.4" height="13.2" fill="#fff"/><text x="0" y="0" font-size="11" fill="#E2804C">y25++ 1444.69</text></g>
<rect x="816" y="452" width="1" height="8" fill="#008000"/>
<g transform="translate(820.8,442.0) rotate(-90)"><rect x="-1" y="-10.7" width="75.0" height="13.2" fill="#fff"/><text x="0" y="0" font-size="11" fill="#008000">b29++ 1624.79</text></g>
<rect x="846" y="437" width="1" height="23" fill="#E2804C"/>
<g transform="translate(852.4,433.7) rotate(-90)"><rect x="-1" y="-10.7" width="68.0" height="13.2" fill="#fff"/><text x="0" y="0" font-size="11" fill="#E2804C">y13+ 1686.79</text></g>
<rect x="890" y="441" width="1" height="19" fill="#E2804C"/>
<g transform="translate(895.6,437.3) rotate(-90)"><rect x="-1" y="-10.7" width="68.0" height="13.2" fill="#fff"/><text x="0" y="0" font-size="11" fill="#E2804C">y14+ 1773.86</text></g>
<rect x="963" y="441" width="1" height="19" fill="#E2804C"/>
<g transform="translate(968.7,437.3) rotate(-90)"><rect x="-1" y="-10.7" width="68.0" height="13.2" fill="#fff"/><text x="0" y="0" font-size="11" fill="#E2804C">y15+ 1920.93</text></g>
<rect x="1068" y="44" width="1" height="416" fill="#E2804C"/>
<g transform="translate(1080.4,82.7) rotate(-90)"><rect x="-1" y="-10.7" width="68.0" height="13.2" fill="#fff"/><text x="0" y="0" font-size="11" fill="#E2804C">y17+ 2131.06</text></g>
<rect x="1117" y="436" width="1" height="24" fill="#E2804C"/>
<g transform="translate(1122.8,432.6) rotate(-90)"><rect x="-1" y="-10.7" width="68.0" height="13.2" fill="#fff"/><text x="0" y="0" font-size="11" fill="#E2804C">y18+ 2230.10</text></g>
<rect x="1252" y="414" width="1" height="46" fill="#E2804C"/>
<g transform="translate(1258.1,410.2) rotate(-90)"><rect x="-1" y="-10.7" width="68.0" height="13.2" fill="#fff"/><text x="0" y="0" font-size="11" fill="#E2804C">y21+ 2501.30</text></g>
<text x="202" y="51" style="font-family:'Liberation Serif',serif;font-weight:bold;font-size:12.5px" fill="#000080">4+</text>
<text transform="translate(217.15,69.6) scale(1.16,1)" font-size="15.4" stroke="#000" stroke-width="0.3">Q</text>
<text transform="translate(240.10,69.6) scale(1.16,1)" font-size="15.4" stroke="#000" stroke-width="0.3">G</text>
<text transform="translate(262.53,69.6) scale(1.16,1)" font-size="15.4" stroke="#000" stroke-width="0.3">D</text>
<text transform="translate(285.53,69.6) scale(1.16,1)" font-size="15.4" stroke="#000" stroke-width="0.3">M</text>
<text transform="translate(309.92,69.6) scale(1.16,1)" font-size="15.4" stroke="#000" stroke-width="0.3">V</text>
<text transform="translate(331.53,69.6) scale(1.16,1)" font-size="15.4" stroke="#000" stroke-width="0.3">D</text>
<text transform="translate(354.53,69.6) scale(1.16,1)" font-size="15.4" stroke="#000" stroke-width="0.3">L</text>
<text transform="translate(377.53,69.6) scale(1.16,1)" font-size="15.4" stroke="#000" stroke-width="0.3">P</text>
<text transform="translate(400.53,69.6) scale(1.16,1)" font-size="15.4" stroke="#000" stroke-width="0.3">R</text>
<text transform="translate(423.53,69.6) scale(1.16,1)" font-size="15.4" stroke="#000" stroke-width="0.3">P</text>
<text transform="translate(447.19,69.6) scale(1.16,1)" font-size="15.4" stroke="#000" stroke-width="0.3">S</text>
<text transform="translate(470.09,69.6) scale(1.16,1)" font-size="15.4" stroke="#000" stroke-width="0.3">C</text>
<text transform="translate(493.92,69.6) scale(1.16,1)" font-size="15.4" stroke="#000" stroke-width="0.3">V</text>
<text transform="translate(516.60,69.6) scale(1.16,1)" font-size="15.4" stroke="#000" stroke-width="0.3">T</text>
<text transform="translate(538.53,69.6) scale(1.16,1)" font-size="15.4" stroke="#000" stroke-width="0.3">L</text>
<text transform="translate(562.10,69.6) scale(1.16,1)" font-size="15.4" stroke="#000" stroke-width="0.3">G</text>
<text transform="translate(585.92,69.6) scale(1.16,1)" font-size="15.4" stroke="#000" stroke-width="0.3">V</text>
<text transform="translate(607.53,69.6) scale(1.16,1)" font-size="15.4" stroke="#000" stroke-width="0.3">P</text>
<text transform="translate(630.53,69.6) scale(1.16,1)" font-size="15.4" stroke="#000" stroke-width="0.3">L</text>
<text transform="translate(653.53,69.6) scale(1.16,1)" font-size="15.4" stroke="#000" stroke-width="0.3">F</text>
<text transform="translate(677.19,69.6) scale(1.16,1)" font-size="15.4" stroke="#000" stroke-width="0.3">S</text>
<text transform="translate(699.53,69.6) scale(1.16,1)" font-size="15.4" stroke="#000" stroke-width="0.3">H</text>
<text transform="translate(722.53,69.6) scale(1.16,1)" font-size="15.4" stroke="#000" stroke-width="0.3">L</text>
<text transform="translate(746.15,69.6) scale(1.16,1)" font-size="15.4" stroke="#000" stroke-width="0.3">Q</text>
<text transform="translate(768.53,69.6) scale(1.16,1)" font-size="15.4" stroke="#000" stroke-width="0.3">N</text>
<text transform="translate(791.53,69.6) scale(1.16,1)" font-size="15.4" stroke="#000" stroke-width="0.3">E</text>
<text transform="translate(815.15,69.6) scale(1.16,1)" font-size="15.4" stroke="#000" stroke-width="0.3">Q</text>
<text transform="translate(838.92,69.6) scale(1.16,1)" font-size="15.4" stroke="#000" stroke-width="0.3">W</text>
<text transform="translate(861.92,69.6) scale(1.16,1)" font-size="15.4" stroke="#000" stroke-width="0.3">V</text>
<text transform="translate(883.53,69.6) scale(1.16,1)" font-size="15.4" stroke="#000" stroke-width="0.3">D</text>
<text transform="translate(907.61,69.6) scale(1.16,1)" font-size="15.4" stroke="#000" stroke-width="0.3">Y</text>
<text transform="translate(929.53,69.6) scale(1.16,1)" font-size="15.4" stroke="#000" stroke-width="0.3">N</text>
<text transform="translate(952.53,69.6) scale(1.16,1)" font-size="15.4" stroke="#000" stroke-width="0.3">L</text>
<text transform="translate(975.53,69.6) scale(1.16,1)" font-size="15.4" stroke="#000" stroke-width="0.3">K</text>
<rect x="236" y="56" width="1" height="17" fill="#000"/>
<line x1="236.5" y1="73" x2="232.5" y2="77.5" stroke="#000" stroke-width="1" shape-rendering="auto"/>
<text x="230.52" y="86.8" font-size="9" fill="#008000" stroke="#008000" stroke-width="0.25">b</text>
<text x="237.50" y="86" font-size="6.6" font-weight="bold" fill="#008000">1</text>
<rect x="259" y="56" width="1" height="17" fill="#000"/>
<line x1="259.5" y1="73" x2="255.5" y2="77.5" stroke="#000" stroke-width="1" shape-rendering="auto"/>
<text x="253.52" y="86.8" font-size="9" fill="#008000" stroke="#008000" stroke-width="0.25">b</text>
<text x="259.90" y="86" font-size="6.6" font-weight="bold" fill="#008000">2</text>
<rect x="282" y="56" width="1" height="17" fill="#000"/>
<line x1="282.5" y1="73" x2="278.5" y2="77.5" stroke="#000" stroke-width="1" shape-rendering="auto"/>
<text x="276.52" y="86.8" font-size="9" fill="#008000" stroke="#008000" stroke-width="0.25">b</text>
<text x="282.90" y="86" font-size="6.6" font-weight="bold" fill="#008000">3</text>
<rect x="305" y="56" width="1" height="17" fill="#000"/>
<line x1="305.5" y1="73" x2="301.5" y2="77.5" stroke="#000" stroke-width="1" shape-rendering="auto"/>
<text x="299.52" y="86.8" font-size="9" fill="#008000" stroke="#008000" stroke-width="0.25">b</text>
<text x="305.90" y="86" font-size="6.6" font-weight="bold" fill="#008000">4</text>
<rect x="328" y="56" width="1" height="17" fill="#000"/>
<line x1="328.5" y1="73" x2="324.5" y2="77.5" stroke="#000" stroke-width="1" shape-rendering="auto"/>
<text x="322.52" y="86.8" font-size="9" fill="#008000" stroke="#008000" stroke-width="0.25">b</text>
<text x="328.90" y="86" font-size="6.6" font-weight="bold" fill="#008000">5</text>
<rect x="351" y="56" width="1" height="17" fill="#000"/>
<line x1="351.5" y1="73" x2="347.5" y2="77.5" stroke="#000" stroke-width="1" shape-rendering="auto"/>
<text x="345.52" y="86.8" font-size="9" fill="#008000" stroke="#008000" stroke-width="0.25">b</text>
<text x="351.90" y="86" font-size="6.6" font-weight="bold" fill="#008000">6</text>
<rect x="374" y="56" width="1" height="17" fill="#000"/>
<line x1="374.5" y1="73" x2="370.5" y2="77.5" stroke="#000" stroke-width="1" shape-rendering="auto"/>
<text x="368.52" y="86.8" font-size="9" fill="#008000" stroke="#008000" stroke-width="0.25">b</text>
<text x="374.90" y="86" font-size="6.6" font-weight="bold" fill="#008000">7</text>
<rect x="397" y="56" width="1" height="17" fill="#000"/>
<line x1="397.5" y1="73" x2="393.5" y2="77.5" stroke="#000" stroke-width="1" shape-rendering="auto"/>
<text x="391.52" y="86.8" font-size="9" fill="#008000" stroke="#008000" stroke-width="0.25">b</text>
<text x="397.90" y="86" font-size="6.6" font-weight="bold" fill="#008000">8</text>
<rect x="420" y="56" width="1" height="17" fill="#000"/>
<line x1="420.5" y1="73" x2="416.5" y2="77.5" stroke="#000" stroke-width="1" shape-rendering="auto"/>
<text x="414.52" y="86.8" font-size="9" fill="#008000" stroke="#008000" stroke-width="0.25">b</text>
<text x="420.90" y="86" font-size="6.6" font-weight="bold" fill="#008000">9</text>
<line x1="420.5" y1="56" x2="424.5" y2="52" stroke="#000" stroke-width="1" shape-rendering="auto"/>
<text x="424.98" y="48.6" font-size="9" fill="#E2804C">y</text>
<text x="429.50" y="47.8" font-size="6.6" font-weight="bold" fill="#E2804C">25</text>
<rect x="443" y="56" width="1" height="17" fill="#000"/>
<line x1="443.5" y1="73" x2="439.5" y2="77.5" stroke="#000" stroke-width="1" shape-rendering="auto"/>
<text x="437.52" y="86.8" font-size="9" fill="#008000" stroke="#008000" stroke-width="0.25">b</text>
<text x="444.50" y="86" font-size="6.6" font-weight="bold" fill="#008000">10</text>
<rect x="466" y="56" width="1" height="17" fill="#000"/>
<line x1="466.5" y1="73" x2="462.5" y2="77.5" stroke="#000" stroke-width="1" shape-rendering="auto"/>
<text x="460.52" y="86.8" font-size="9" fill="#008000" stroke="#008000" stroke-width="0.25">b</text>
<text x="467.50" y="86" font-size="6.6" font-weight="bold" fill="#008000">11</text>
<line x1="466.5" y1="56" x2="470.5" y2="52" stroke="#000" stroke-width="1" shape-rendering="auto"/>
<text x="470.98" y="48.6" font-size="9" fill="#E2804C">y</text>
<text x="475.50" y="47.8" font-size="6.6" font-weight="bold" fill="#E2804C">23</text>
<rect x="489" y="56" width="1" height="17" fill="#000"/>
<line x1="489.5" y1="73" x2="485.5" y2="77.5" stroke="#000" stroke-width="1" shape-rendering="auto"/>
<text x="483.52" y="86.8" font-size="9" fill="#008000" stroke="#008000" stroke-width="0.25">b</text>
<text x="490.50" y="86" font-size="6.6" font-weight="bold" fill="#008000">12</text>
<rect x="512" y="56" width="1" height="17" fill="#000"/>
<line x1="512.5" y1="56" x2="516.5" y2="52" stroke="#000" stroke-width="1" shape-rendering="auto"/>
<text x="516.98" y="48.6" font-size="9" fill="#E2804C">y</text>
<text x="521.50" y="47.8" font-size="6.6" font-weight="bold" fill="#E2804C">21</text>
<rect x="535" y="56" width="1" height="17" fill="#000"/>
<line x1="535.5" y1="56" x2="539.5" y2="52" stroke="#000" stroke-width="1" shape-rendering="auto"/>
<text x="539.98" y="48.6" font-size="9" fill="#E2804C">y</text>
<text x="544.50" y="47.8" font-size="6.6" font-weight="bold" fill="#E2804C">20</text>
<rect x="558" y="56" width="1" height="17" fill="#000"/>
<line x1="558.5" y1="56" x2="562.5" y2="52" stroke="#000" stroke-width="1" shape-rendering="auto"/>
<text x="562.98" y="48.6" font-size="9" fill="#E2804C">y</text>
<text x="569.00" y="47.8" font-size="6.6" font-weight="bold" fill="#E2804C">19</text>
<rect x="581" y="56" width="1" height="17" fill="#000"/>
<line x1="581.5" y1="56" x2="585.5" y2="52" stroke="#000" stroke-width="1" shape-rendering="auto"/>
<text x="585.98" y="48.6" font-size="9" fill="#E2804C">y</text>
<text x="592.00" y="47.8" font-size="6.6" font-weight="bold" fill="#E2804C">18</text>
<rect x="604" y="56" width="1" height="17" fill="#000"/>
<line x1="604.5" y1="56" x2="608.5" y2="52" stroke="#000" stroke-width="1" shape-rendering="auto"/>
<text x="608.98" y="48.6" font-size="9" fill="#E2804C">y</text>
<text x="615.00" y="47.8" font-size="6.6" font-weight="bold" fill="#E2804C">17</text>
<rect x="650" y="56" width="1" height="17" fill="#000"/>
<line x1="650.5" y1="56" x2="654.5" y2="52" stroke="#000" stroke-width="1" shape-rendering="auto"/>
<text x="654.98" y="48.6" font-size="9" fill="#E2804C">y</text>
<text x="661.00" y="47.8" font-size="6.6" font-weight="bold" fill="#E2804C">15</text>
<rect x="673" y="56" width="1" height="17" fill="#000"/>
<line x1="673.5" y1="56" x2="677.5" y2="52" stroke="#000" stroke-width="1" shape-rendering="auto"/>
<text x="677.98" y="48.6" font-size="9" fill="#E2804C">y</text>
<text x="684.00" y="47.8" font-size="6.6" font-weight="bold" fill="#E2804C">14</text>
<rect x="696" y="56" width="1" height="17" fill="#000"/>
<line x1="696.5" y1="56" x2="700.5" y2="52" stroke="#000" stroke-width="1" shape-rendering="auto"/>
<text x="700.98" y="48.6" font-size="9" fill="#E2804C">y</text>
<text x="707.00" y="47.8" font-size="6.6" font-weight="bold" fill="#E2804C">13</text>
<rect x="742" y="56" width="1" height="17" fill="#000"/>
<line x1="742.5" y1="56" x2="746.5" y2="52" stroke="#000" stroke-width="1" shape-rendering="auto"/>
<text x="746.98" y="48.6" font-size="9" fill="#E2804C">y</text>
<text x="753.00" y="47.8" font-size="6.6" font-weight="bold" fill="#E2804C">11</text>
<rect x="765" y="56" width="1" height="17" fill="#000"/>
<line x1="765.5" y1="73" x2="761.5" y2="77.5" stroke="#000" stroke-width="1" shape-rendering="auto"/>
<text x="759.52" y="86.8" font-size="9" fill="#008000" stroke="#008000" stroke-width="0.25">b</text>
<text x="765.90" y="86" font-size="6.6" font-weight="bold" fill="#008000">24</text>
<line x1="765.5" y1="56" x2="769.5" y2="52" stroke="#000" stroke-width="1" shape-rendering="auto"/>
<text x="769.98" y="48.6" font-size="9" fill="#E2804C">y</text>
<text x="776.00" y="47.8" font-size="6.6" font-weight="bold" fill="#E2804C">10</text>
<rect x="788" y="56" width="1" height="17" fill="#000"/>
<line x1="788.5" y1="56" x2="792.5" y2="52" stroke="#000" stroke-width="1" shape-rendering="auto"/>
<text x="792.98" y="48.6" font-size="9" fill="#E2804C">y</text>
<text x="797.50" y="47.8" font-size="6.6" font-weight="bold" fill="#E2804C">9</text>
<rect x="811" y="56" width="1" height="17" fill="#000"/>
<line x1="811.5" y1="56" x2="815.5" y2="52" stroke="#000" stroke-width="1" shape-rendering="auto"/>
<text x="815.98" y="48.6" font-size="9" fill="#E2804C">y</text>
<text x="820.50" y="47.8" font-size="6.6" font-weight="bold" fill="#E2804C">8</text>
<rect x="834" y="56" width="1" height="17" fill="#000"/>
<line x1="834.5" y1="56" x2="838.5" y2="52" stroke="#000" stroke-width="1" shape-rendering="auto"/>
<text x="838.98" y="48.6" font-size="9" fill="#E2804C">y</text>
<text x="843.50" y="47.8" font-size="6.6" font-weight="bold" fill="#E2804C">7</text>
<rect x="857" y="56" width="1" height="17" fill="#000"/>
<line x1="857.5" y1="56" x2="861.5" y2="52" stroke="#000" stroke-width="1" shape-rendering="auto"/>
<text x="861.98" y="48.6" font-size="9" fill="#E2804C">y</text>
<text x="866.50" y="47.8" font-size="6.6" font-weight="bold" fill="#E2804C">6</text>
<rect x="880" y="56" width="1" height="17" fill="#000"/>
<line x1="880.5" y1="73" x2="876.5" y2="77.5" stroke="#000" stroke-width="1" shape-rendering="auto"/>
<text x="874.52" y="86.8" font-size="9" fill="#008000" stroke="#008000" stroke-width="0.25">b</text>
<text x="880.90" y="86" font-size="6.6" font-weight="bold" fill="#008000">29</text>
<line x1="880.5" y1="56" x2="884.5" y2="52" stroke="#000" stroke-width="1" shape-rendering="auto"/>
<text x="884.98" y="48.6" font-size="9" fill="#E2804C">y</text>
<text x="889.50" y="47.8" font-size="6.6" font-weight="bold" fill="#E2804C">5</text>
<rect x="903" y="56" width="1" height="17" fill="#000"/>
<line x1="903.5" y1="56" x2="907.5" y2="52" stroke="#000" stroke-width="1" shape-rendering="auto"/>
<text x="907.98" y="48.6" font-size="9" fill="#E2804C">y</text>
<text x="912.50" y="47.8" font-size="6.6" font-weight="bold" fill="#E2804C">4</text>
<rect x="926" y="56" width="1" height="17" fill="#000"/>
<line x1="926.5" y1="56" x2="930.5" y2="52" stroke="#000" stroke-width="1" shape-rendering="auto"/>
<text x="930.98" y="48.6" font-size="9" fill="#E2804C">y</text>
<text x="935.50" y="47.8" font-size="6.6" font-weight="bold" fill="#E2804C">3</text>
<rect x="949" y="56" width="1" height="17" fill="#000"/>
<line x1="949.5" y1="56" x2="953.5" y2="52" stroke="#000" stroke-width="1" shape-rendering="auto"/>
<text x="953.98" y="48.6" font-size="9" fill="#E2804C">y</text>
<text x="958.50" y="47.8" font-size="6.6" font-weight="bold" fill="#E2804C">2</text>
<rect x="972" y="56" width="1" height="17" fill="#000"/>
<line x1="972.5" y1="56" x2="976.5" y2="52" stroke="#000" stroke-width="1" shape-rendering="auto"/>
<text x="976.98" y="48.6" font-size="9" fill="#E2804C">y</text>
<text x="983.00" y="47.8" font-size="6.6" font-weight="bold" fill="#E2804C">1</text>
</svg></body></html>
